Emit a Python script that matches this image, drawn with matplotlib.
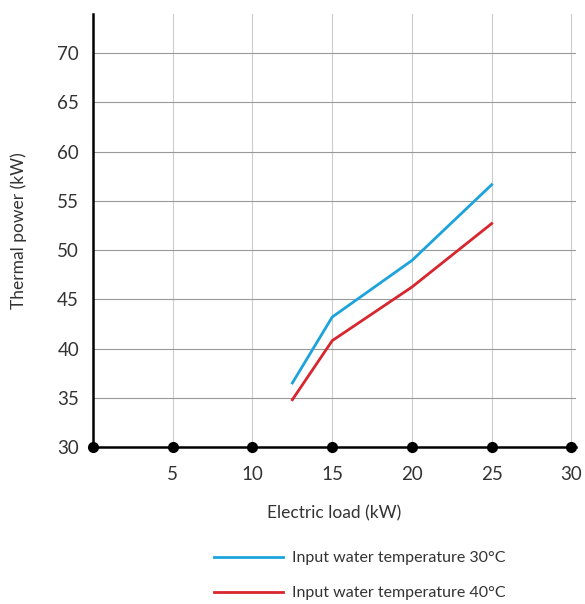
import matplotlib.pyplot as plt

plt.rcParams['font.family'] = ['Lato', 'DejaVu Sans']

load_kw = [12.5, 15, 20, 25]
power_30 = [36.5, 43.2, 48.95, 56.65]
power_40 = [34.8, 40.8, 46.25, 52.7]
x_ticks = [0, 5, 10, 15, 20, 25, 30]
y_ticks = [30, 35, 40, 45, 50, 55, 60, 65, 70]

txt = '#333333'

fig = plt.figure(figsize=(5.85, 6.04), dpi=100)
ax = fig.add_axes([0.159, 0.26, 0.826, 0.717])

ax.plot(load_kw, power_30, color='#1ca3dc', lw=2, label='Input water temperature 30°C')
ax.plot(load_kw, power_40, color='#d7262d', lw=2, label='Input water temperature 40°C')

ax.set_xlim(0, 30.3)
ax.set_ylim(30, 74)
ax.set_xticks(x_ticks)
ax.set_xticklabels([''] + [str(v) for v in x_ticks[1:]])
ax.set_yticks(y_ticks)

for v in x_ticks[1:]:
    ax.axvline(v, color='#cccccc', lw=0.8, zorder=0)
for v in y_ticks[1:]:
    ax.axhline(v, color='#999999', lw=0.8, zorder=0)

ax.plot(x_ticks, [30] * len(x_ticks), 'o', color='black', ms=7, clip_on=False, zorder=5)

for s in ['top', 'right']:
    ax.spines[s].set_visible(False)
ax.spines['left'].set_linewidth(1.8)
ax.spines['bottom'].set_linewidth(1.8)
ax.tick_params(length=0, labelsize=13.5, colors=txt)
ax.tick_params(axis='x', pad=14)
ax.tick_params(axis='y', pad=10)

ax.set_xlabel('Electric load (kW)', fontsize=12.5, color=txt, labelpad=16)
ax.set_ylabel('Thermal power (kW)', fontsize=12.5, color=txt, labelpad=22)

fig.legend(loc='upper left', bbox_to_anchor=(0.355, 0.098), frameon=False,
           fontsize=11.5, labelcolor=txt, handlelength=4.3, handletextpad=0.6,
           labelspacing=1.3, borderaxespad=0)

fig.savefig('out.png', dpi=100)
